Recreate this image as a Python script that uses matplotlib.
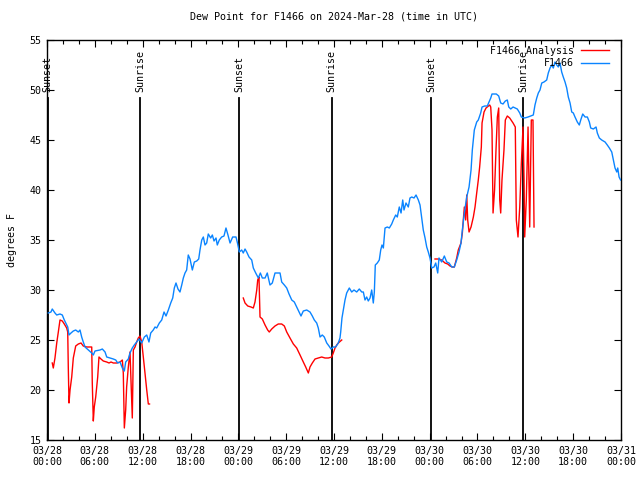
import matplotlib
matplotlib.use("Agg")
import matplotlib.pyplot as plt
from matplotlib.ticker import MultipleLocator

# ---- data (hours since 03/28 00:00 UTC, degrees F) ----
obs_hours = [0.16, 0.50, 0.66, 1.00, 1.22, 1.63, 1.92, 2.17, 2.60, 2.76, 3.01, 3.30, 3.60, 3.93,
             4.14, 4.35, 4.55, 4.77, 5.18, 5.61, 5.81, 6.02, 6.65, 6.94, 7.28, 7.49, 7.90, 8.32,
             8.62, 8.87, 9.16, 9.45, 9.70, 9.87, 10.20, 10.41, 10.70, 10.95, 11.25, 11.54, 11.88,
             12.21, 12.51, 12.79, 13.01, 13.33, 13.55, 13.76, 14.09, 14.39, 14.68, 14.93, 15.22,
             15.52, 15.77, 15.97, 16.18, 16.43, 16.68, 16.90, 17.10, 17.31, 17.52, 17.72, 17.94,
             18.23, 18.48, 18.78, 19.03, 19.19, 19.41, 19.61, 19.82, 20.03, 20.23, 20.53, 20.74,
             20.95, 21.20, 21.36, 21.61, 21.91, 22.20, 22.45, 22.70, 22.96, 23.29, 23.71, 23.92,
             24.12, 24.42, 24.62, 24.84, 25.05, 25.34, 25.68, 25.88, 26.18, 26.51, 26.76, 27.01,
             27.35, 27.63, 27.97, 28.26, 28.60, 29.23, 29.44, 29.77, 30.07, 30.36, 30.70, 31.02,
             31.32, 31.61, 31.86, 32.15, 32.58, 32.99, 33.28, 33.53, 33.83, 34.03, 34.25, 34.53,
             34.78, 35.09, 35.37, 35.62, 35.91, 36.21, 36.54, 36.75, 36.84, 37.00, 37.17, 37.38,
             37.59, 37.92, 38.22, 38.51, 38.85, 39.17, 39.48, 39.68, 39.89, 40.10, 40.30, 40.52,
             40.73, 40.93, 41.06, 41.18, 41.43, 41.68, 41.86, 42.02, 42.19, 42.40, 42.69, 42.94,
             43.24, 43.44, 43.74, 43.94, 44.19, 44.41, 44.62, 44.78, 45.03, 45.32, 45.53, 45.75,
             46.04, 46.29, 46.58, 46.79, 47.00, 47.20, 47.42, 47.63, 47.83, 48.04, 48.26, 48.54,
             48.76, 49.01, 49.17, 49.51, 49.84, 50.14, 50.43, 50.77, 51.09, 51.39, 51.68, 51.93,
             52.10, 52.35, 52.65, 52.94, 53.19, 53.35, 53.60, 53.90, 54.10, 54.40, 54.57, 54.90,
             55.23, 55.66, 55.82, 56.36, 56.66, 56.91, 57.20, 57.49, 57.74, 57.92, 58.17, 58.46,
             58.74, 58.99, 59.30, 59.50, 59.92, 60.34, 60.67, 61.00, 61.21, 61.43, 61.63, 61.84,
             62.06, 62.34, 62.68, 62.88, 63.10, 63.31, 63.51, 63.72, 63.94, 64.14, 64.35, 64.56,
             64.76, 64.98, 65.19, 65.39, 65.61, 65.82, 66.02, 66.23, 66.52, 66.77, 66.95, 67.20,
             67.49, 67.78, 68.03, 68.20, 68.53, 68.87, 69.03, 69.28, 69.58, 70.00, 70.28, 70.54,
             70.84, 71.04, 71.25, 71.47, 71.59, 71.76, 71.95]
obs_dewpoint = [27.7, 27.8, 28.1, 27.7, 27.5, 27.6, 27.5, 27.0, 26.3, 25.5, 25.7, 25.9, 26.0, 25.8,
                26.0, 25.3, 24.8, 24.3, 24.0, 23.7, 23.5, 23.9, 24.0, 24.1, 23.8, 23.3, 23.2, 23.1,
                23.0, 22.7, 22.8, 22.2, 21.9, 22.8, 23.1, 23.7, 24.2, 24.5, 24.8, 25.1, 24.7,
                25.3, 25.5, 24.8, 25.7, 26.0, 26.3, 26.2, 26.7, 27.0, 27.8, 27.4, 28.0,
                28.7, 29.2, 30.2, 30.7, 30.1, 29.8, 30.5, 31.2, 31.7, 32.0, 33.5, 33.1,
                32.0, 32.8, 32.9, 33.1, 34.0, 35.0, 35.3, 34.5, 34.7, 35.6, 35.2, 35.5,
                34.9, 35.2, 34.5, 35.0, 35.3, 35.4, 36.2, 35.5, 34.7, 35.3, 35.3, 34.6,
                33.8, 34.0, 33.7, 34.1, 33.8, 33.3, 33.0, 32.2, 31.7, 31.2, 31.7, 31.2,
                31.2, 31.7, 30.5, 30.7, 31.7, 31.7, 30.8, 30.5, 30.2, 29.6, 29.0, 28.8,
                28.3, 27.8, 27.4, 27.9, 28.0, 27.8, 27.4, 27.0, 26.7, 26.2, 25.3, 25.5,
                25.3, 24.7, 24.4, 24.1, 24.3, 24.3, 24.7, 25.2, 25.8, 27.2, 28.0, 29.0,
                29.7, 30.2, 29.8, 30.0, 29.8, 30.1, 29.8, 29.8, 29.0, 29.3, 28.9, 29.2,
                30.0, 28.7, 29.8, 32.5, 32.7, 33.0, 34.0, 34.5, 34.2, 36.2, 36.3, 36.2,
                36.6, 37.0, 37.5, 37.3, 38.3, 37.7, 39.0, 38.0, 38.7, 38.3, 39.2, 39.3,
                39.2, 39.5, 39.0, 38.5, 37.2, 36.0, 35.2, 34.3, 33.8, 33.2, 32.2, 32.3,
                32.7, 31.7, 33.2, 32.8, 33.4, 32.8, 32.7, 32.3, 32.3, 33.0, 33.8, 34.7,
                36.0, 37.7, 39.3, 40.3, 42.0, 44.0, 46.0, 46.8, 47.0, 47.7, 48.3, 48.4,
                48.4, 49.2, 49.6, 49.6, 49.4, 48.7, 48.6, 48.9, 49.0, 48.3, 48.1, 48.3,
                48.2, 48.1, 47.7, 47.3, 47.2, 47.3, 47.4, 47.5, 48.5, 49.2, 49.7, 50.0,
                50.7, 50.8, 51.0, 51.7, 52.2, 52.5, 52.2, 52.8, 52.5, 52.3, 52.7, 51.8,
                51.3, 50.8, 50.2, 49.3, 48.7, 47.8, 47.7, 47.3, 46.8, 46.5, 47.0, 47.6,
                47.3, 47.3, 46.8, 46.2, 46.1, 46.3, 45.7, 45.2, 45.0, 44.8, 44.5, 44.2,
                43.8, 43.0, 42.2, 41.8, 42.2, 41.3, 41.0]

# analysis series, three separate segments
ana1_hours = [0.66, 0.79, 1.00, 1.22, 1.42, 1.63, 1.92, 2.17, 2.47, 2.60, 2.67, 2.76, 2.89, 3.10,
              3.30, 3.60, 3.93, 4.27, 4.55, 4.98, 5.61, 5.68, 5.81, 5.93, 6.11, 6.36, 6.52, 6.77,
              7.06, 7.49, 7.78, 8.03, 8.32, 8.74, 9.16, 9.45, 9.57, 9.70, 9.87, 9.99, 10.20, 10.41,
              10.70, 10.83, 11.04, 11.25, 11.45, 11.67, 11.88, 12.08, 12.29, 12.51, 12.71, 12.86]
ana1_dewpoint = [22.7, 22.2, 23.2, 24.7, 25.8, 27.0, 26.9, 26.6, 26.2, 25.8, 22.3, 18.7, 20.0, 21.3,
                 23.2, 24.4, 24.6, 24.7, 24.4, 24.3, 24.3, 20.7, 16.9, 18.3, 19.3, 21.3, 23.3, 23.1,
                 22.9, 22.8, 22.7, 22.8, 22.7, 22.7, 22.8, 23.0, 21.7, 16.2, 18.0, 20.3, 22.3, 23.8,
                 17.2, 24.0, 24.3, 24.8, 25.2, 25.4, 24.8, 23.3, 21.7, 20.0, 18.6, 18.6]
ana2_hours = [24.62, 24.84, 25.18, 25.59, 25.88, 26.09, 26.31, 26.43, 26.59, 26.72, 27.01, 27.35,
              27.68, 27.88, 28.19, 28.60, 29.01, 29.44, 29.77, 30.07, 30.48, 30.90, 31.32, 31.74,
              32.15, 32.45, 32.78, 32.99, 33.28, 33.62, 34.03, 34.46, 34.87, 35.29, 35.71, 35.91,
              36.13, 36.34, 36.54, 36.97]
ana2_dewpoint = [29.2, 28.7, 28.4, 28.3, 28.2, 28.8, 30.0, 31.0, 31.3, 27.3, 27.1, 26.5,
                 26.0, 25.8, 26.1, 26.4, 26.6, 26.6, 26.4, 25.8, 25.2, 24.6, 24.2, 23.5,
                 22.8, 22.3, 21.7, 22.3, 22.7, 23.1, 23.2, 23.3, 23.2, 23.2, 23.3, 23.7,
                 24.2, 24.5, 24.7, 25.0]
ana3_hours = [48.67, 49.08, 49.51, 49.92, 50.26, 50.55, 50.84, 51.09, 51.39, 51.59, 51.93, 52.10,
              52.22, 52.35, 52.52, 52.65, 52.77, 52.94, 53.19, 53.48, 53.69, 53.90, 54.10, 54.27,
              54.48, 54.57, 54.82, 55.07, 55.53, 55.66, 55.82, 55.95, 56.14, 56.32, 56.49, 56.66,
              56.79, 56.91, 57.07, 57.32, 57.49, 57.74, 58.04, 58.46, 58.74, 58.87, 59.08, 59.30,
              59.50, 59.71, 59.84, 59.92, 60.12, 60.34, 60.55, 60.75, 60.96, 61.09]
ana3_dewpoint = [33.1, 33.1, 33.0, 32.7, 32.6, 32.4, 32.3, 32.3, 33.2, 34.0, 34.7, 35.7,
                 37.0, 38.3, 37.0, 39.5, 37.0, 35.8, 36.3, 37.3, 38.3, 39.7, 41.0, 42.3,
                 44.3, 46.7, 47.8, 48.2, 48.5, 48.3, 46.0, 37.7, 40.0, 44.0, 47.3, 48.2,
                 39.0, 37.7, 41.0, 44.0, 47.0, 47.4, 47.2, 46.7, 46.3, 37.0, 35.3, 38.3,
                 42.7, 46.3, 41.0, 35.3, 39.0, 46.3, 36.3, 47.0, 47.0, 36.3]

sun_hours = [0.08, 11.70, 24.12, 35.71, 48.20, 59.75]
sun_labels = ["Sunset", "Sunrise", "Sunset", "Sunrise", "Sunset", "Sunrise"]

tick_hours = [0, 6, 12, 18, 24, 30, 36, 42, 48, 54, 60, 66, 72]
tick_labels = ["03/28\n00:00", "03/28\n06:00", "03/28\n12:00", "03/28\n18:00",
               "03/29\n00:00", "03/29\n06:00", "03/29\n12:00", "03/29\n18:00",
               "03/30\n00:00", "03/30\n06:00", "03/30\n12:00", "03/30\n18:00",
               "03/31\n00:00"]

# ---- figure ----
FONT = "DejaVu Sans Mono"
FS = 7.2
plt.rcParams['font.family'] = FONT
plt.rcParams['font.size'] = FS

fig = plt.figure(figsize=(6.4, 4.8), dpi=100)
ax = fig.add_axes([47/640, 40/480, 574/640, 400/480])

ax.set_xlim(0, 72)
ax.set_ylim(15, 55)

# sunrise / sunset markers
for h, lab in zip(sun_hours, sun_labels):
    ax.plot([h, h], [15, 49.2], color='black', lw=1.3, zorder=2)
    ax.text(h, 49.8, lab, rotation=90, ha='center', va='bottom', fontsize=FS, color='black')

red_color = '#ff0000'
blue_color = '#0a84ff'
ax.plot(ana1_hours, ana1_dewpoint, color=red_color, lw=1.0, label='F1466 Analysis', zorder=3)
ax.plot(ana2_hours, ana2_dewpoint, color=red_color, lw=1.0, zorder=3)
ax.plot(ana3_hours, ana3_dewpoint, color=red_color, lw=1.0, zorder=3)
ax.plot(obs_hours, obs_dewpoint, color=blue_color, lw=1.0, label='F1466', zorder=3)

ax.set_xticks(tick_hours)
ax.set_xticklabels(tick_labels)
ax.xaxis.set_minor_locator(MultipleLocator(2))
ax.set_yticks(range(15, 56, 5))
ax.tick_params(axis='both', which='both', direction='in', top=True, right=True,
               labelsize=FS, color='black')
ax.tick_params(axis='both', which='major', length=5, width=0.8, pad=4)
ax.tick_params(axis='x', which='minor', length=3, width=0.8)
for s in ax.spines.values():
    s.set_linewidth(1.0)

ax.set_ylabel("degrees F", fontsize=FS, labelpad=9)
ax.set_title("Dew Point for F1466 on 2024-Mar-28 (time in UTC)", fontsize=FS, pad=15)

leg = ax.legend(loc='upper right', bbox_to_anchor=(0.990, 1.0), frameon=False, markerfirst=False,
                handlelength=2.8, handletextpad=0.7, labelspacing=0.25, fontsize=FS,
                borderaxespad=0.2)

fig.savefig("out.png", dpi=100)
